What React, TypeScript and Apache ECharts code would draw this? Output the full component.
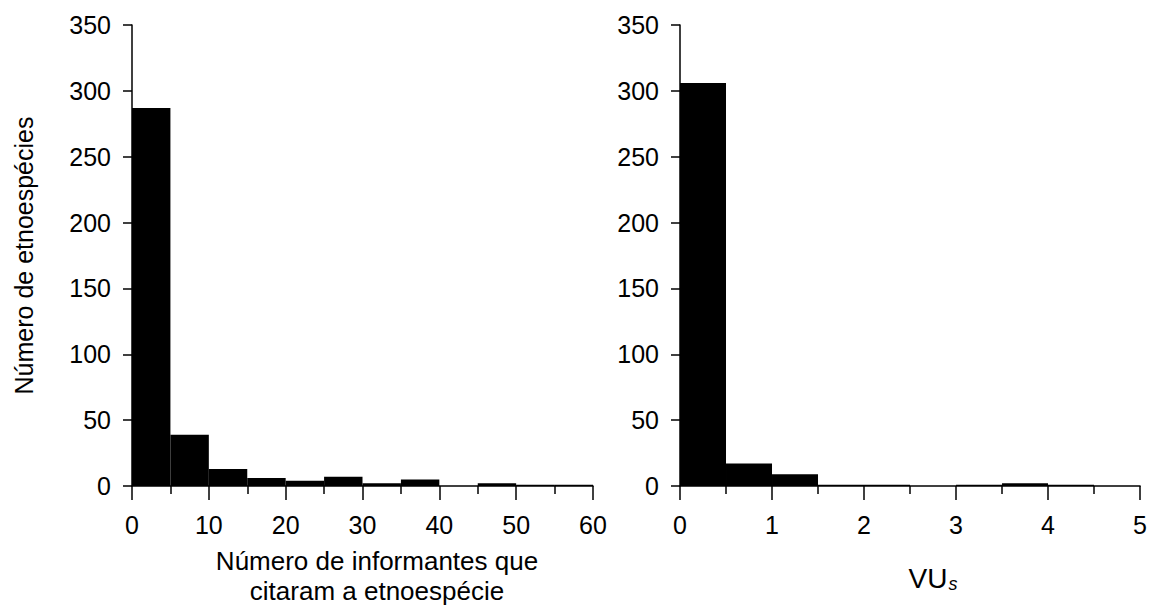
import React, { useEffect, useRef } from "react";
import * as echarts from "echarts";

const leftBinStarts = [0, 5, 10, 15, 20, 25, 30, 35, 40, 45, 50, 55];
const leftBinWidth = 5;
const leftCounts = [287, 39, 13, 6, 4, 7, 2, 5, 0, 2, 1, 1];

const rightBinStarts = [0, 0.5, 1, 1.5, 2, 2.5, 3, 3.5, 4, 4.5];
const rightBinWidth = 0.5;
const rightCounts = [306, 17, 9, 1, 1, 0, 1, 2, 1, 0];

const yTitle = "Número de etnoespécies";
const leftXTitle = ["Número de informantes que", "citaram a etnoespécie"];

const FONT = "Liberation Sans, Arial, sans-serif";

function binsData(starts: number[], w: number, counts: number[]) {
  return starts.map((s, i) => [s, s + w, counts[i]]);
}

const renderBar = (params: any, api: any) => {
  const x0 = api.value(0);
  const x1 = api.value(1);
  const y = api.value(2);
  if (!y) return null;
  const p0 = api.coord([x0, y]);
  const p1 = api.coord([x1, 0]);
  return {
    type: "rect",
    shape: { x: p0[0], y: p0[1], width: p1[0] - p0[0], height: p1[1] - p0[1] },
    style: { fill: "#000" },
  };
};

export default function App() {
  const ref = useRef<HTMLDivElement>(null);
  useEffect(() => {
    document.body.style.margin = "0";
    const chart = echarts.init(ref.current!, null, { renderer: "svg" });
    const axisLine = { show: true, lineStyle: { color: "#000", width: 1.5 } };
    const xAxisBase = (max: number, interval: number) => ({
      type: "value",
      min: 0,
      max,
      interval,
      axisLine,
      axisTick: { show: true, inside: false, length: 14, lineStyle: { color: "#000", width: 1.5 } },
      minorTick: { show: true, splitNumber: 2, length: 8, lineStyle: { color: "#000", width: 1.5 } },
      axisLabel: { color: "#000", fontSize: 25, fontFamily: FONT, margin: 26 },
      splitLine: { show: false },
      minorSplitLine: { show: false },
    });
    const yAxisBase = (withName: boolean) => ({
      type: "value",
      min: 0,
      max: 350,
      interval: 50,
      axisLine,
      axisTick: { show: true, inside: false, length: 9, lineStyle: { color: "#000", width: 1.5 } },
      axisLabel: { color: "#000", fontSize: 25, fontFamily: FONT, margin: 21 },
      splitLine: { show: false },
      name: withName ? yTitle : "",
      nameLocation: "middle",
      nameGap: 96,
      nameTextStyle: { color: "#000", fontSize: 25, fontFamily: FONT },
    });
    chart.setOption({
      animation: false,
      backgroundColor: "#fff",
      grid: [
        { left: 132, top: 25, width: 461, height: 461 },
        { left: 680, top: 25, width: 461, height: 461 },
      ],
      xAxis: [
        { ...xAxisBase(60, 10), gridIndex: 0 },
        { ...xAxisBase(5, 1), gridIndex: 1 },
      ],
      yAxis: [
        { ...yAxisBase(true), gridIndex: 0 },
        { ...yAxisBase(false), gridIndex: 1 },
      ],
      series: [
        {
          type: "custom",
          xAxisIndex: 0,
          yAxisIndex: 0,
          renderItem: renderBar,
          encode: { x: [0, 1], y: 2 },
          data: binsData(leftBinStarts, leftBinWidth, leftCounts),
        },
        {
          type: "custom",
          xAxisIndex: 1,
          yAxisIndex: 1,
          renderItem: renderBar,
          encode: { x: [0, 1], y: 2 },
          data: binsData(rightBinStarts, rightBinWidth, rightCounts),
        },
      ],
      graphic: [
        {
          type: "text",
          x: 377,
          y: 561,
          style: {
            text: leftXTitle[0],
            fill: "#000",
            font: `26px ${FONT}`,
            textAlign: "center",
            textVerticalAlign: "middle",
          },
        },
        {
          type: "text",
          x: 377,
          y: 591,
          style: {
            text: leftXTitle[1],
            fill: "#000",
            font: `26px ${FONT}`,
            textAlign: "center",
            textVerticalAlign: "middle",
          },
        },
        {
          type: "text",
          x: 933,
          y: 578,
          style: {
            text: "{a|VU}{b|s}",
            textAlign: "center",
            textVerticalAlign: "middle",
            rich: {
              a: { fontSize: 28, fontFamily: FONT, fill: "#000", color: "#000" },
              b: { fontSize: 18, fontFamily: FONT, fontStyle: "italic", fill: "#000", color: "#000", padding: [12, 0, 0, 1] },
            },
          },
        },
      ],
    });
    return () => chart.dispose();
  }, []);
  return <div ref={ref} style={{ width: 1150, height: 605 }} />;
}
